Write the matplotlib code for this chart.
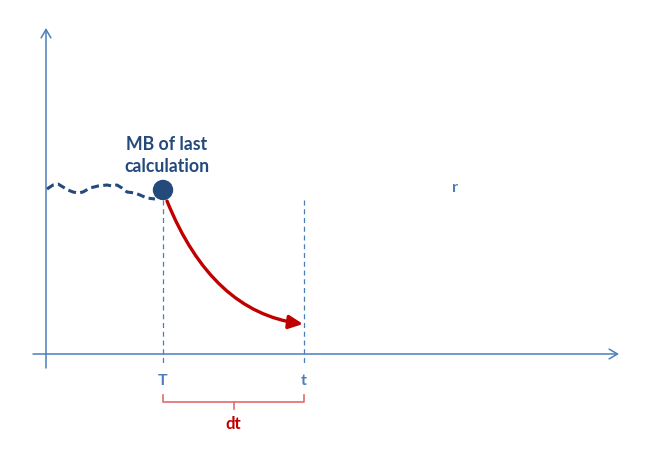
import matplotlib.pyplot as plt
from matplotlib.patches import FancyArrowPatch, Circle
from matplotlib.path import Path

plt.rcParams['font.family'] = ['Lato', 'DejaVu Sans']

# diagram positions, in pixel coordinates of the 650x450 picture
axis_origin = (46, 354)
y_axis_top = 28
y_axis_bottom = 368
x_axis_left = 33
x_axis_right = 619

# wavy history line before the last calculation
wave_x = [47, 53, 58, 63, 68, 73, 78, 83, 90, 98, 107, 112, 117, 122, 127, 135, 140, 147, 155]
wave_y = [189, 185, 184, 187, 190, 192, 193, 192, 188, 186, 185, 186, 185, 188, 192, 193, 195, 198, 199]

dot_xy = (163, 190)
T_x = 163
t_x = 304

# red curve: start, control, end (quadratic bezier)
curve_pts = [(167, 201), (212, 312), (303, 324)]

dark_blue = '#244A7C'
axis_blue = '#4A7EBB'
red = '#C00000'
brace_red = '#E06C6C'

fig = plt.figure(figsize=(6.5, 4.5), dpi=100)
ax = fig.add_axes([0, 0, 1, 1])
ax.set_xlim(0, 650)
ax.set_ylim(450, 0)
ax.axis('off')

# axes
head = '->,head_length=0.6,head_width=0.35'
ax.add_patch(FancyArrowPatch((axis_origin[0], y_axis_bottom), (axis_origin[0], y_axis_top),
                             arrowstyle=head, mutation_scale=10,
                             color=axis_blue, lw=1.1, shrinkA=0, shrinkB=0))
ax.add_patch(FancyArrowPatch((x_axis_left, axis_origin[1]), (x_axis_right, axis_origin[1]),
                             arrowstyle=head, mutation_scale=10,
                             color=axis_blue, lw=1.1, shrinkA=0, shrinkB=0))

# wavy dashed line and dot
ax.plot(wave_x, wave_y, color=dark_blue, lw=2.2, ls=(0, (2.6, 1.4)), solid_capstyle='butt')
ax.add_patch(Circle(dot_xy, 9.5, color=dark_blue, zorder=5))

# vertical dashed guides
ax.plot([T_x, T_x], [200, 365], color=axis_blue, lw=0.9, ls=(0, (4, 3)))
ax.plot([t_x, t_x], [200, 365], color=axis_blue, lw=0.9, ls=(0, (4, 3)))

# red curve
path = Path(curve_pts, [Path.MOVETO, Path.CURVE3, Path.CURVE3])
ax.add_patch(FancyArrowPatch(path=path, arrowstyle='-|>,head_length=0.42,head_width=0.2',
                             mutation_scale=20, color=red, lw=2.4, zorder=4))

# brace under T..t
ax.plot([T_x, T_x, t_x, t_x], [395, 402, 402, 395], color=brace_red, lw=1.2)
ax.plot([(T_x + t_x) / 2] * 2, [402, 409], color=brace_red, lw=1.2)

# labels
ax.text(167, 145, 'MB of last', color=dark_blue, fontsize=12.7, fontweight='bold',
        ha='center', va='center')
ax.text(167, 167, 'calculation', color=dark_blue, fontsize=12.7, fontweight='bold',
        ha='center', va='center')
ax.text(T_x, 381, 'T', color=axis_blue, fontsize=11.5, fontweight='bold', ha='center', va='center')
ax.text(t_x, 381, 't', color=axis_blue, fontsize=11.5, fontweight='bold', ha='center', va='center')
ax.text((T_x + t_x) / 2, 424, 'dt', color=red, fontsize=12, fontweight='bold', ha='center', va='center')
ax.text(455, 188, 'r', color=axis_blue, fontsize=11.5, fontweight='bold', ha='center', va='center')

fig.savefig('out.png', dpi=100)
